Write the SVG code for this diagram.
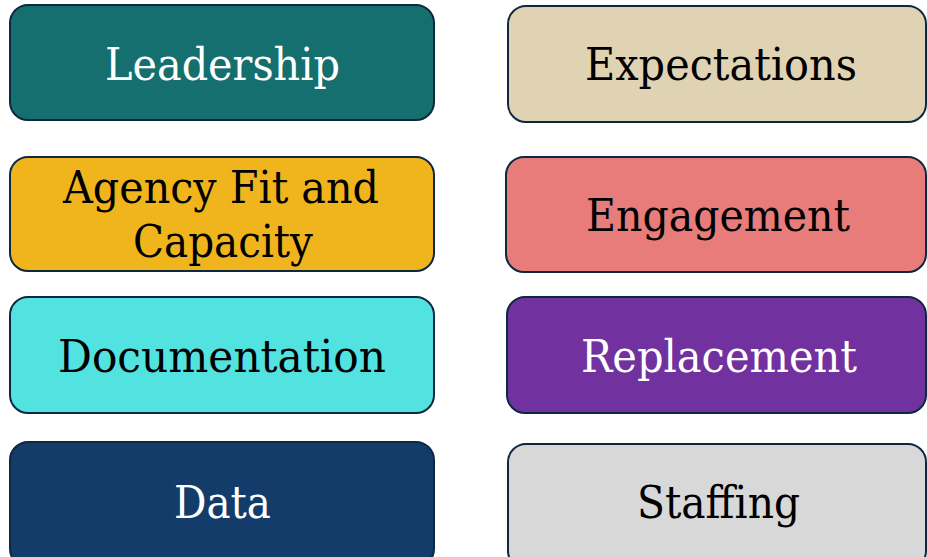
<svg xmlns="http://www.w3.org/2000/svg" width="927" height="557" viewBox="0 0 927 557">
<style>
.box{stroke:#0E2841;stroke-width:2}
.t{font-family:"DejaVu Serif","Liberation Serif",serif;font-size:44px}
.w{fill:#FFFFFF}
.b{fill:#000000}
</style>
<rect width="927" height="557" fill="#FFFFFF"/>
<g id="connectors"></g>
<g id="leadership">
<rect class="box" x="10" y="5" width="424" height="115" rx="18" fill="#156F6E"/>
<text class="t w" x="105" y="80" textLength="235" lengthAdjust="spacingAndGlyphs">Leadership</text>
</g>
<g id="agency">
<rect class="box" x="10" y="157" width="424" height="114" rx="18" fill="#F0B41C"/>
<text class="t b" x="63" y="203" textLength="316" lengthAdjust="spacingAndGlyphs">Agency Fit and</text>
<text class="t b" x="133" y="257" textLength="180" lengthAdjust="spacingAndGlyphs">Capacity</text>
</g>
<g id="documentation">
<rect class="box" x="10" y="297" width="424" height="116" rx="18" fill="#52E3E1"/>
<text class="t b" x="58" y="372" textLength="328" lengthAdjust="spacingAndGlyphs">Documentation</text>
</g>
<g id="data">
<rect class="box" x="10" y="442" width="424" height="125" rx="18" fill="#133C6B"/>
<text class="t w" x="174" y="518" textLength="97" lengthAdjust="spacingAndGlyphs">Data</text>
</g>
<g id="expectations">
<rect class="box" x="508" y="6" width="418" height="116" rx="18" fill="#E0D3B4"/>
<text class="t b" x="585" y="80" textLength="272" lengthAdjust="spacingAndGlyphs">Expectations</text>
</g>
<g id="engagement">
<rect class="box" x="506" y="157" width="420" height="115" rx="18" fill="#E77C7A"/>
<text class="t b" x="586" y="231" textLength="264" lengthAdjust="spacingAndGlyphs">Engagement</text>
</g>
<g id="replacement">
<rect class="box" x="507" y="297" width="419" height="116" rx="18" fill="#71319E"/>
<text class="t w" x="581" y="372" textLength="276" lengthAdjust="spacingAndGlyphs">Replacement</text>
</g>
<g id="staffing">
<rect class="box" x="508" y="444" width="418" height="125" rx="18" fill="#D8D8D8"/>
<text class="t b" x="637" y="518" textLength="163" lengthAdjust="spacingAndGlyphs">Staffing</text>
</g>
</svg>
